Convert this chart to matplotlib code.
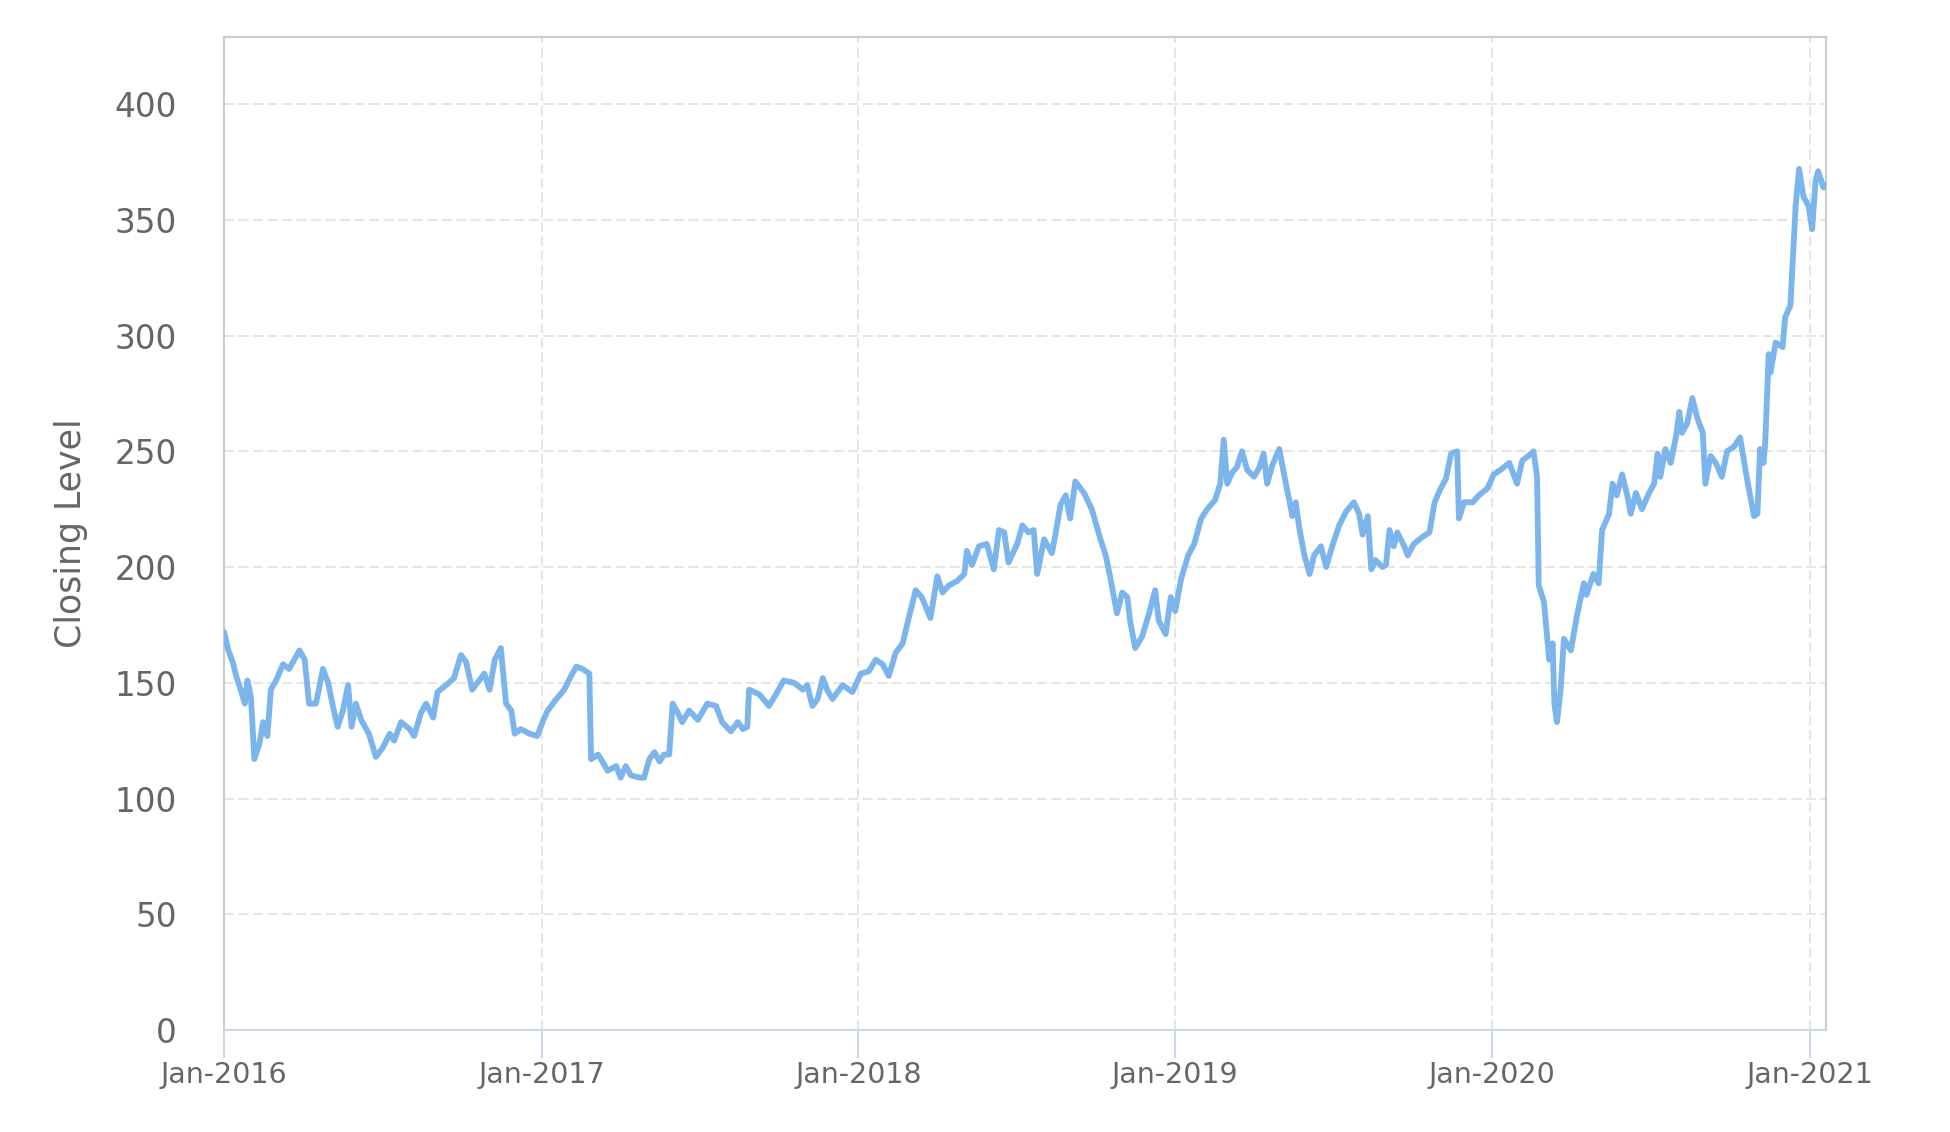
import numpy as np
import pandas as pd
import matplotlib
matplotlib.use("Agg")
import matplotlib.pyplot as plt
import matplotlib.dates as mdates

# ---- data ----
dates_2016 = ["2016-01-01", "2016-01-06", "2016-01-11", "2016-01-15", "2016-01-21", "2016-01-25",
              "2016-01-28", "2016-02-01", "2016-02-05", "2016-02-11", "2016-02-15", "2016-02-20",
              "2016-02-24", "2016-03-01", "2016-03-09", "2016-03-16", "2016-03-28", "2016-04-03",
              "2016-04-08", "2016-04-16", "2016-04-24", "2016-04-30", "2016-05-06", "2016-05-11",
              "2016-05-17", "2016-05-23", "2016-05-27", "2016-06-01", "2016-06-07", "2016-06-16",
              "2016-06-24", "2016-07-02", "2016-07-10", "2016-07-15", "2016-07-23", "2016-08-02",
              "2016-08-07", "2016-08-15", "2016-08-21", "2016-08-29", "2016-09-03", "2016-09-13",
              "2016-09-22", "2016-09-30", "2016-10-06", "2016-10-13", "2016-10-19", "2016-10-27",
              "2016-11-02", "2016-11-08", "2016-11-15", "2016-11-21", "2016-11-27", "2016-12-01",
              "2016-12-08", "2016-12-18", "2016-12-27"]
values_2016 = [172, 164, 159, 153, 146, 141,
               151, 144, 117, 124, 133, 127,
               147, 151, 158, 156, 164, 160,
               141, 141, 156, 150, 139, 131,
               138, 149, 131, 141, 134, 128,
               118, 122, 128, 125, 133, 130,
               127, 137, 141, 135, 146, 149,
               152, 162, 159, 147, 150, 154,
               147, 160, 165, 141, 138, 128,
               130, 128, 127]

dates_2017 = ["2017-01-03", "2017-01-08", "2017-01-18", "2017-01-27", "2017-02-04", "2017-02-10",
              "2017-02-17", "2017-02-25", "2017-02-27", "2017-03-07", "2017-03-12", "2017-03-18",
              "2017-03-28", "2017-04-02", "2017-04-08", "2017-04-14", "2017-04-24", "2017-04-29",
              "2017-05-05", "2017-05-11", "2017-05-17", "2017-05-22", "2017-05-28", "2017-06-01",
              "2017-06-07", "2017-06-12", "2017-06-20", "2017-06-30", "2017-07-11", "2017-07-21",
              "2017-07-28", "2017-08-07", "2017-08-15", "2017-08-21", "2017-08-26", "2017-08-28",
              "2017-09-09", "2017-09-20", "2017-09-28", "2017-10-07", "2017-10-19", "2017-10-29",
              "2017-11-03", "2017-11-09", "2017-11-15", "2017-11-21", "2017-11-26", "2017-12-02",
              "2017-12-14", "2017-12-25"]
values_2017 = [134, 138, 143, 147, 153, 157,
               156, 154, 117, 119, 116, 112,
               114, 109, 114, 110, 109, 109,
               117, 120, 116, 119, 119, 141,
               137, 133, 138, 134, 141, 140,
               133, 129, 133, 130, 131, 147,
               145, 140, 145, 151, 150, 147,
               149, 140, 143, 152, 147, 143,
               149, 146]

dates_2018 = ["2018-01-04", "2018-01-13", "2018-01-21", "2018-01-29", "2018-02-05", "2018-02-13",
              "2018-02-21", "2018-02-28", "2018-03-08", "2018-03-15", "2018-03-25", "2018-04-02",
              "2018-04-08", "2018-04-15", "2018-04-25", "2018-05-03", "2018-05-06", "2018-05-12",
              "2018-05-20", "2018-05-29", "2018-06-06", "2018-06-12", "2018-06-18", "2018-06-23",
              "2018-07-03", "2018-07-09", "2018-07-16", "2018-07-22", "2018-07-26", "2018-08-03",
              "2018-08-12", "2018-08-16", "2018-08-22", "2018-08-28", "2018-09-02", "2018-09-08",
              "2018-09-18", "2018-09-27", "2018-10-07", "2018-10-13", "2018-10-18", "2018-10-26",
              "2018-11-01", "2018-11-07", "2018-11-10", "2018-11-16", "2018-11-24", "2018-12-02",
              "2018-12-09", "2018-12-13", "2018-12-21", "2018-12-27"]
values_2018 = [154, 155, 160, 158, 153, 163,
               167, 178, 190, 187, 178, 196,
               189, 192, 194, 197, 207, 201,
               209, 210, 199, 216, 215, 202,
               210, 218, 215, 216, 197, 212,
               206, 214, 227, 231, 221, 237,
               232, 225, 212, 205, 196, 180,
               189, 187, 177, 165, 170, 180,
               190, 177, 171, 187]

dates_2019 = ["2019-01-01", "2019-01-08", "2019-01-16", "2019-01-23", "2019-01-31", "2019-02-07",
              "2019-02-16", "2019-02-22", "2019-02-26", "2019-03-02", "2019-03-08", "2019-03-13",
              "2019-03-19", "2019-03-25", "2019-04-02", "2019-04-08", "2019-04-13", "2019-04-17",
              "2019-04-23", "2019-05-01", "2019-05-07", "2019-05-13", "2019-05-16", "2019-05-20",
              "2019-05-24", "2019-05-30", "2019-06-05", "2019-06-10", "2019-06-18", "2019-06-24",
              "2019-07-01", "2019-07-09", "2019-07-17", "2019-07-26", "2019-08-01", "2019-08-05",
              "2019-08-11", "2019-08-15", "2019-08-20", "2019-08-28", "2019-09-01", "2019-09-05",
              "2019-09-10", "2019-09-14", "2019-09-22", "2019-09-26", "2019-10-03", "2019-10-13",
              "2019-10-21", "2019-10-27", "2019-11-03", "2019-11-09", "2019-11-15", "2019-11-22",
              "2019-11-24", "2019-11-30", "2019-12-10", "2019-12-17", "2019-12-27"]
values_2019 = [181, 195, 205, 210, 221, 225,
               229, 236, 255, 236, 241, 243,
               250, 242, 239, 243, 249, 236,
               244, 251, 239, 228, 222, 228,
               217, 205, 197, 205, 209, 200,
               209, 218, 224, 228, 223, 214,
               222, 199, 203, 200, 201, 216,
               209, 215, 209, 205, 210, 213,
               215, 228, 234, 238, 249, 250,
               221, 228, 228, 231, 234]

dates_2020 = ["2020-01-03", "2020-01-11", "2020-01-21", "2020-01-30", "2020-02-05", "2020-02-12",
              "2020-02-18", "2020-02-22", "2020-02-24", "2020-03-01", "2020-03-07", "2020-03-11",
              "2020-03-13", "2020-03-16", "2020-03-20", "2020-03-24", "2020-04-01", "2020-04-08",
              "2020-04-16", "2020-04-19", "2020-04-27", "2020-05-03", "2020-05-07", "2020-05-15",
              "2020-05-19", "2020-05-24", "2020-05-30", "2020-06-05", "2020-06-09", "2020-06-15",
              "2020-06-22", "2020-06-30", "2020-07-06", "2020-07-10", "2020-07-13", "2020-07-19",
              "2020-07-25", "2020-07-31", "2020-08-04", "2020-08-07", "2020-08-13", "2020-08-19",
              "2020-08-25", "2020-08-31", "2020-09-03", "2020-09-09", "2020-09-15", "2020-09-22",
              "2020-09-28", "2020-10-06", "2020-10-13", "2020-10-21", "2020-10-29", "2020-11-02",
              "2020-11-05", "2020-11-09", "2020-11-11", "2020-11-15", "2020-11-17", "2020-11-23",
              "2020-12-01", "2020-12-04", "2020-12-10", "2020-12-16", "2020-12-20", "2020-12-25",
              "2020-12-31", "2021-01-04", "2021-01-08", "2021-01-11", "2021-01-17", "2021-01-20"]
values_2020 = [240, 242, 245, 236, 246, 248,
               250, 239, 192, 185, 160, 167,
               141, 133, 146, 169, 164, 179,
               193, 188, 197, 193, 216, 223,
               236, 231, 240, 231, 223, 232,
               225, 232, 236, 249, 239, 251,
               245, 256, 267, 258, 262, 273,
               264, 258, 236, 248, 245, 239,
               250, 252, 256, 238, 222, 223,
               251, 245, 254, 292, 284, 297,
               295, 308, 313, 356, 372, 360,
               356, 346, 367, 371, 364, 365]

tick_years = [2016, 2017, 2018, 2019, 2020, 2021]
y_ticks = [0, 50, 100, 150, 200, 250, 300, 350, 400]
y_label = "Closing Level"

# ---- build series ----
dates = pd.to_datetime(dates_2016 + dates_2017 + dates_2018 + dates_2019 + dates_2020)
values = np.array(values_2016 + values_2017 + values_2018 + values_2019 + values_2020, dtype=float)

W, H = 1950, 1132
fig = plt.figure(figsize=(W / 100, H / 100), dpi=100)
L, R, T, B = 224, 1826, 37, 1030
ax = fig.add_axes([L / W, 1 - B / H, (R - L) / W, (B - T) / H])

line_color = "#7cb5ec"
ax.plot(dates, values, color=line_color, lw=4.2, solid_joinstyle="round", solid_capstyle="round", zorder=3)

ax.set_xlim(pd.Timestamp("2016-01-01"), pd.Timestamp("2021-01-20"))
ax.set_ylim(0, 429)

ax.set_yticks(y_ticks)
ax.set_yticklabels([str(v) for v in y_ticks])
xt = [pd.Timestamp(f"{y}-01-01") for y in tick_years]
ax.set_xticks(xt)
ax.set_xticklabels([t.strftime("%b-%Y") for t in xt])

grid_color = "#dedede"
ax.grid(True, axis="both", color=grid_color, lw=1.1, linestyle=(0, (6.5, 3)), zorder=0)

text_color = "#666666"
ax.tick_params(axis="y", length=0, pad=34, labelsize=23.5, labelcolor=text_color)
ax.tick_params(axis="x", direction="out", length=20, width=1.4, color="#ccd6eb",
               pad=2, labelsize=20.5, labelcolor=text_color)

for side in ["top", "right", "left"]:
    ax.spines[side].set_color("#cccccc")
    ax.spines[side].set_linewidth(1.5)
ax.spines["bottom"].set_color("#ccd6eb")
ax.spines["bottom"].set_linewidth(1.5)

fig.text(71 / W, 1 - 533 / H, y_label, rotation=90, ha="center", va="center",
         fontsize=25, color=text_color)

fig.savefig("out.png", dpi=100, facecolor="white")
